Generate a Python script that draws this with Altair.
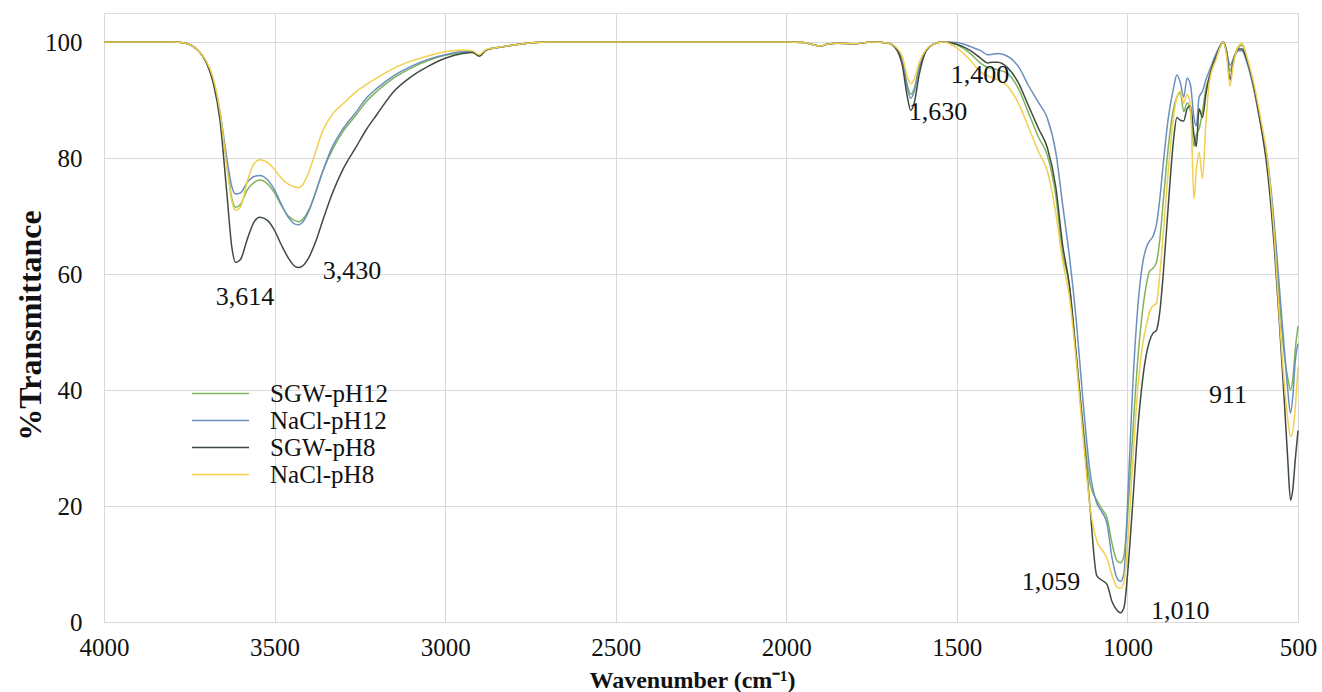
import altair as alt
import pandas as pd

wavenumber = [4000, 3800, 3760, 3740, 3720, 3700, 3680, 3660, 3640, 3625, 3614, 3600, 3580, 3560, 3543,
              3520, 3500, 3480, 3460, 3440, 3430, 3420, 3400, 3380, 3360, 3330, 3300, 3260, 3230, 3200,
              3150, 3100, 3050, 3000, 2950, 2920, 2900, 2880, 2850, 2800, 2700, 2500, 2200, 2000, 1950,
              1900, 1880, 1850, 1800, 1750, 1700, 1680, 1660, 1645, 1635, 1625, 1610, 1590, 1570, 1540,
              1500, 1460, 1430, 1410, 1395, 1380, 1350, 1320, 1290, 1260, 1235, 1210, 1190, 1170, 1150,
              1130, 1110, 1090, 1075, 1060, 1045, 1030, 1020, 1010, 1000, 985, 970, 955, 945, 935,
              925, 915, 905, 895, 880, 865, 855, 845, 835, 825, 815, 805, 798, 790, 780,
              770, 760, 740, 719, 710, 699, 690, 675, 664, 650, 630, 610, 590, 570, 555,
              540, 530, 522, 515, 508, 500]

sgw_ph8 = [100, 100, 99.8, 99.3, 98.3, 96.5, 93, 86.5, 74, 64.5, 62, 62.5, 66, 69, 69.8,
           69.2, 67.5, 65, 62.8, 61.3, 61.1, 61.3, 62.8, 65.5, 69, 74, 78, 82, 85, 87.5,
           91.5, 94, 95.8, 97.2, 98, 98.2, 97.6, 98.6, 99, 99.5, 100, 100, 100, 100, 99.9,
           99.3, 99.6, 99.8, 99.7, 100, 99.8, 99, 96, 90.5, 88.2, 89.5, 94.5, 98.5, 99.6, 100,
           99.6, 98.5, 97.2, 96.4, 96.5, 96.5, 95.5, 93, 89, 85, 81.8, 75, 65, 58, 46,
           33, 20, 8, 7.2, 6.5, 3.5, 2, 1.6, 2.5, 8, 20, 33, 42, 46, 48.5,
           49.8, 50.3, 53.5, 60, 72, 83, 87, 86.5, 86.4, 88.5, 89, 84, 82, 88.5, 87,
           91, 94, 97.5, 100, 98.5, 93.5, 96.5, 98.8, 98.8, 97, 92.5, 86, 78, 65, 52,
           38, 28, 21, 23, 28, 33]

nacl_ph12 = [100, 100, 99.8, 99.3, 98.3, 96.5, 93.5, 88, 80, 75, 73.8, 74, 75.8, 76.8, 77,
             76.2, 74.5, 72, 69.8, 68.6, 68.5, 68.8, 70.8, 74, 77.5, 82, 85, 88, 90.4, 92,
             94.2, 95.8, 97, 97.8, 98.3, 98.3, 97.6, 98.6, 99, 99.5, 100, 100, 100, 100, 99.9,
             99.3, 99.6, 99.8, 99.7, 100, 99.8, 99, 97, 92, 90.3, 91.5, 95.5, 98.5, 99.6, 100,
             99.9, 99.2, 98.5, 97.8, 97.9, 98, 97.5, 95.8, 92.5, 89.5, 86.9, 81, 72, 63, 52,
             38, 26, 20.5, 19, 17, 11, 7.5, 7, 8.5, 20, 40, 54, 62, 64.5, 65.7,
             66.5, 68.5, 73, 79, 87, 92, 94.3, 93, 90.5, 93.8, 92.5, 87, 85.5, 90.5, 91.5,
             93.5, 95, 98, 100, 98.5, 96, 97, 98.5, 98.5, 96.5, 92, 86, 80, 69, 58,
             47, 40, 36, 39, 45, 48]

sgw_ph12 = [100, 100, 99.8, 99.3, 98.3, 96.5, 93.2, 87.5, 79, 73, 71.5, 72, 74.5, 75.8, 76.2,
            75.5, 74, 71.8, 70, 69.2, 69, 69.3, 71, 74, 77.5, 81.5, 84.5, 87.5, 89.8, 91.5,
            93.8, 95.5, 96.8, 97.7, 98.2, 98.3, 97.6, 98.6, 99, 99.5, 100, 100, 100, 100, 99.9,
            99.3, 99.6, 99.8, 99.7, 100, 99.8, 99, 97, 92.5, 91, 92, 95.8, 98.5, 99.6, 100,
            99.5, 98, 96.3, 95.6, 95.4, 95.2, 94.5, 92, 87.8, 83.5, 80.5, 73.5, 63.5, 58, 46,
            34, 24, 21, 19.5, 18, 13.5, 10.5, 10.2, 11.5, 18, 32, 45, 54, 58, 60.5,
            61, 62, 66, 72.5, 82, 88.5, 90.5, 91.2, 88, 89.5, 88, 82, 84, 85, 88,
            92, 94, 97.5, 100, 98.5, 95, 97, 99, 99.5, 97, 92, 86, 79.5, 68, 56,
            46, 42, 40, 42, 47, 51]

nacl_ph8 = [100, 100, 99.8, 99.3, 98.3, 96.7, 93.8, 88, 78.5, 72.5, 71, 71.5, 76, 79, 79.7,
            79.2, 78, 76.5, 75.5, 75, 74.9, 75.2, 77.5, 81, 84.5, 87.6, 89.3, 91.5, 92.7, 93.8,
            95.5, 96.7, 97.6, 98.3, 98.6, 98.5, 97.8, 98.7, 99, 99.5, 100, 100, 100, 100, 99.9,
            99.3, 99.6, 99.8, 99.7, 100, 99.8, 99.2, 97.5, 94, 92.8, 93.6, 96.5, 98.7, 99.6, 100,
            99, 96.8, 94.8, 94.2, 93.8, 93.5, 92.3, 89.5, 85.3, 81, 77.8, 70.5, 62.3, 56, 45,
            32, 20, 14, 12.5, 11, 8, 6, 5.8, 7, 13, 27, 40, 48, 51, 53.5,
            54.5, 55, 60, 67, 78, 87, 90.5, 91.5, 89.5, 91, 89, 73, 78, 81, 76.5,
            86, 93, 97, 100, 98, 92.4, 96, 99.3, 99.8, 97.5, 93, 87, 80, 67, 53,
            41, 35, 32, 33, 37, 44]

series_names = ["SGW-pH12", "NaCl-pH12", "SGW-pH8", "NaCl-pH8"]
series_values = [sgw_ph12, nacl_ph12, sgw_ph8, nacl_ph8]
series_colors = ["#82b35c", "#6b8fbd", "#3f4b3f", "#f2cf4f"]

peak_labels = ["3,614", "3,430", "1,630", "1,400", "911", "1,059", "1,010"]
peak_label_x = [3587, 3273, 1555, 1432, 705, 1224, 845]
peak_label_y = [56.1, 60.6, 88.0, 94.3, 39.1, 6.9, 1.9]

x_ticks = [4000, 3500, 3000, 2500, 2000, 1500, 1000, 500]
y_ticks = [0, 20, 40, 60, 80, 100]

rows = []
for name, vals in zip(series_names, series_values):
    for w, v in zip(wavenumber, vals):
        rows.append({"series": name, "wavenumber": w, "T": v})
df = pd.DataFrame(rows)
df["order"] = df["series"].map({n: i for i, n in enumerate(series_names)})

ann = pd.DataFrame({"label": peak_labels, "x": peak_label_x, "y": peak_label_y})

FONT = "Liberation Serif"

x_scale = alt.Scale(domain=[500, 4000], reverse=True, nice=False, zero=False)
y_scale = alt.Scale(domain=[0, 105], nice=False)

lines = alt.Chart(df).mark_line(strokeWidth=1.5, interpolate="monotone").encode(
    x=alt.X("wavenumber:Q", scale=x_scale,
            axis=alt.Axis(values=x_ticks, title="Wavenumber (cm⁻¹)", format="d",
                          labelFontSize=25, labelFont=FONT, labelColor="#111",
                          labelFlush=False, labelOverlap=False,
                          ticks=False, domain=False, labelPadding=13,
                          titleFont=FONT, titleFontSize=24, titleFontWeight="bold",
                          titleColor="#111", titleX=588, titleY=58,
                          titleBaseline="middle", gridColor="#d9d9d9")),
    y=alt.Y("T:Q", scale=y_scale,
            axis=alt.Axis(values=y_ticks, title="%Transmittance",
                          labelFontSize=25, labelFont=FONT, labelColor="#111",
                          labelFlush=False,
                          ticks=False, domain=False, labelPadding=22,
                          titleFont=FONT, titleFontSize=32, titleFontWeight="bold",
                          titleColor="#111", titleX=-74, titleY=312,
                          titleBaseline="middle", gridColor="#d9d9d9")),
    color=alt.Color("series:N",
                    scale=alt.Scale(domain=series_names, range=series_colors),
                    legend=alt.Legend(title=None, orient="none", legendX=85, legendY=368,
                                      symbolType="M-1,0H5", symbolSize=361,
                                      symbolStrokeWidth=1.5, labelFont=FONT,
                                      labelFontSize=25, labelColor="#111",
                                      labelOffset=56, rowPadding=1)),
    order=alt.Order("order:Q"),
    detail="series:N",
)

texts = alt.Chart(ann).mark_text(font=FONT, fontSize=26, color="#111").encode(
    x=alt.X("x:Q", scale=x_scale),
    y=alt.Y("y:Q", scale=y_scale),
    text="label:N",
)

chart = alt.layer(lines, texts).properties(
    width=1194, height=609,
    autosize=alt.AutoSizeParams(type="none"),
    padding={"left": 104, "top": 13, "right": 24, "bottom": 70},
).configure_view(stroke="#111", strokeWidth=2).configure(background="white")

chart.save("out.html", embed_options={"renderer": "svg", "actions": False})
